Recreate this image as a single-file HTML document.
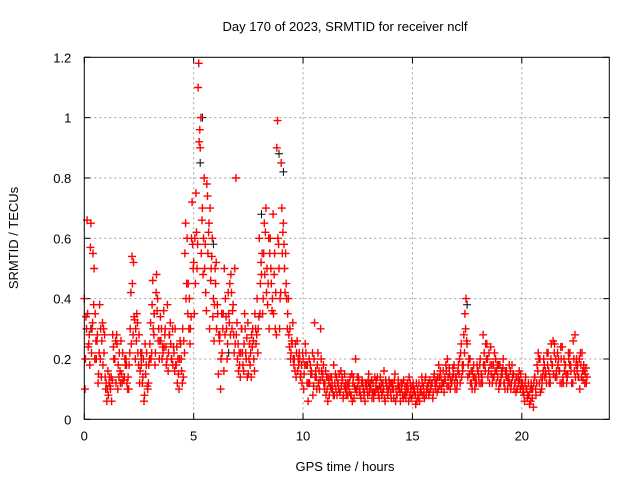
<!DOCTYPE html>
<html><head><meta charset="utf-8"><style>
body{margin:0;background:#fff;}
svg{display:block;font-family:"Liberation Sans",sans-serif;}
</style></head><body>
<svg id="chart" width="640" height="480" viewBox="0 0 640 480">
<text x="345" y="31" font-size="13" text-anchor="middle">Day 170 of 2023, SRMTID for receiver nclf</text>
<text transform="translate(18,238) rotate(-90)" font-size="13" text-anchor="middle">SRMTID / TECUs</text>
<text x="345" y="471" font-size="13" text-anchor="middle">GPS time / hours</text>
<g id="grid"></g>
<g id="ticks"></g>
<g id="marks"></g>
<rect x="84.3" y="57.3" width="525" height="362" fill="none" stroke="#000" stroke-width="1"/>
</svg>
<script>
const xTicks=[0,5,10,15,20];
const yTicks=[0,0.2,0.4,0.6,0.8,1,1.2];
const yTickLabels=["0","0.2","0.4","0.6","0.8","1","1.2"];
const step=0.1;
const seriesA=[0.40,0.30,0.25,0.65,0.55,0.35,0.28,0.38,0.26,0.22,
0.12,0.08,0.10,0.28,0.20,0.25,0.22,0.15,0.13,0.20,
0.14,0.30,0.45,0.33,0.35,0.28,0.18,0.20,0.15,0.10,
0.25,0.38,0.35,0.48,0.30,0.26,0.22,0.30,0.38,0.28,
0.20,0.22,0.18,0.15,0.25,0.30,0.55,0.60,0.40,0.60,
0.52,0.75,1.10,0.90,0.70,0.50,0.78,0.65,0.50,0.40,
0.45,0.35,0.28,0.22,0.50,0.30,0.35,0.48,0.38,0.25,
0.20,0.18,0.30,0.25,0.20,0.15,0.22,0.30,0.35,0.40,
0.60,0.48,0.55,0.70,0.45,0.60,0.40,0.55,0.90,0.50,
0.85,0.65,0.55,0.35,0.30,0.25,0.20,0.22,0.18,0.15,
0.20,0.25,0.18,0.12,0.15,0.20,0.14,0.12,0.30,0.15,
0.12,0.10,0.08,0.14,0.18,0.10,0.12,0.09,0.13,0.15,
0.10,0.12,0.08,0.14,0.20,0.11,0.10,0.13,0.09,0.12,
0.15,0.10,0.12,0.09,0.14,0.11,0.08,0.16,0.12,0.10,
0.09,0.12,0.15,0.08,0.11,0.10,0.13,0.07,0.10,0.12,
0.08,0.10,0.06,0.12,0.09,0.11,0.14,0.10,0.13,0.12,
0.15,0.12,0.18,0.14,0.16,0.13,0.20,0.15,0.12,0.18,
0.14,0.18,0.22,0.16,0.35,0.25,0.15,0.12,0.18,0.14,
0.16,0.20,0.12,0.18,0.25,0.22,0.15,0.18,0.20,0.14,
0.18,0.15,0.12,0.16,0.14,0.10,0.15,0.12,0.10,0.13,
0.11,0.08,0.10,0.12,0.06,0.10,0.14,0.18,0.12,0.10,
0.20,0.15,0.22,0.12,0.18,0.25,0.14,0.16,0.20,0.12,
0.18,0.15,0.22,0.12,0.16,0.20,0.14,0.18,0.13,0.15];
const seriesB=[0.20,0.35,0.18,0.30,0.50,0.20,0.15,0.30,0.18,0.14,
0.10,0.14,0.06,0.20,0.12,0.18,0.12,0.22,0.20,0.12,
0.18,0.25,0.52,0.30,0.22,0.16,0.12,0.08,0.22,0.18,
0.20,0.30,0.22,0.40,0.26,0.20,0.24,0.18,0.22,0.25,
0.18,0.30,0.12,0.20,0.16,0.26,0.40,0.45,0.30,0.58,
0.60,0.50,0.92,0.55,0.60,0.42,0.55,0.70,0.60,0.38,
0.30,0.28,0.20,0.35,0.40,0.25,0.45,0.30,0.22,0.28,
0.16,0.22,0.18,0.30,0.14,0.25,0.28,0.20,0.25,0.30,
0.45,0.35,0.48,0.50,0.30,0.45,0.35,0.42,0.60,0.40,
0.55,0.50,0.40,0.28,0.22,0.20,0.25,0.16,0.20,0.12,
0.15,0.18,0.12,0.15,0.08,0.14,0.18,0.10,0.16,0.12,
0.08,0.14,0.11,0.10,0.12,0.08,0.15,0.11,0.08,0.12,
0.08,0.14,0.06,0.11,0.09,0.13,0.07,0.10,0.12,0.08,
0.11,0.07,0.09,0.13,0.08,0.10,0.12,0.06,0.09,0.11,
0.12,0.07,0.10,0.13,0.06,0.08,0.11,0.09,0.14,0.07,
0.10,0.05,0.08,0.09,0.12,0.07,0.10,0.08,0.11,0.09,
0.10,0.14,0.11,0.12,0.09,0.16,0.11,0.13,0.17,0.10,
0.12,0.20,0.14,0.28,0.40,0.18,0.12,0.16,0.10,0.18,
0.12,0.15,0.18,0.25,0.14,0.18,0.12,0.22,0.16,0.10,
0.14,0.20,0.16,0.10,0.12,0.18,0.10,0.14,0.12,0.15,
0.09,0.12,0.07,0.05,0.10,0.12,0.08,0.22,0.09,0.14,
0.14,0.22,0.12,0.25,0.15,0.20,0.18,0.12,0.24,0.16,
0.12,0.20,0.16,0.26,0.14,0.18,0.10,0.22,0.16,0.12];
const seriesC=[0.10,0.66,0.28,0.22,0.38,0.26,0.12,0.20,0.32,0.28,
0.06,0.12,0.14,0.24,0.26,0.10,0.16,0.12,0.14,0.18,
0.10,0.42,0.28,0.20,0.32,0.12,0.22,0.06,0.18,0.12,
0.32,0.46,0.18,0.36,0.20,0.30,0.36,0.24,0.16,0.32,
0.30,0.16,0.24,0.10,0.20,0.14,0.65,0.35,0.25,0.72,
0.35,0.62,1.18,1.00,0.48,0.58,0.74,0.30,0.54,0.26,
0.52,0.15,0.10,0.30,0.28,0.20,0.32,0.42,0.28,0.80,
0.25,0.14,0.22,0.35,0.27,0.20,0.14,0.26,0.30,0.22,
0.35,0.55,0.65,0.42,0.60,0.50,0.68,0.30,0.99,0.30,
0.70,0.58,0.45,0.40,0.20,0.32,0.16,0.26,0.22,0.18,
0.10,0.22,0.06,0.18,0.22,0.32,0.10,0.16,0.20,0.18,
0.16,0.06,0.14,0.12,0.08,0.14,0.10,0.16,0.07,0.10,
0.12,0.09,0.15,0.07,0.10,0.14,0.08,0.12,0.06,0.10,
0.09,0.13,0.07,0.11,0.10,0.14,0.09,0.07,0.11,0.13,
0.07,0.10,0.06,0.11,0.09,0.12,0.08,0.11,0.06,0.10,
0.12,0.08,0.10,0.06,0.14,0.09,0.08,0.12,0.10,0.07,
0.12,0.09,0.14,0.10,0.12,0.18,0.14,0.10,0.14,0.12,
0.10,0.15,0.25,0.18,0.30,0.14,0.20,0.10,0.14,0.12,
0.14,0.12,0.28,0.16,0.20,0.12,0.18,0.14,0.12,0.18,
0.12,0.17,0.10,0.14,0.18,0.12,0.15,0.09,0.14,0.10,
0.12,0.06,0.10,0.08,0.12,0.04,0.10,0.16,0.20,0.12,
0.18,0.12,0.16,0.20,0.26,0.14,0.22,0.16,0.12,0.20,
0.15,0.22,0.18,0.12,0.28,0.16,0.20,0.14,0.18,0.17];
const seriesD=[0.34,0.24,0.57,0.32,0.20,0.26,0.22,0.14,0.30,0.10,
0.16,0.11,0.13,0.20,0.28,0.14,0.26,0.13,0.18,0.10,
0.22,0.54,0.34,0.26,0.18,0.22,0.14,0.25,0.11,0.20,
0.22,0.28,0.42,0.26,0.34,0.24,0.28,0.20,0.28,0.20,
0.24,0.18,0.20,0.26,0.12,0.22,0.45,0.30,0.34,0.50,
0.45,0.58,0.96,0.66,0.80,0.36,0.62,0.46,0.34,0.50,
0.38,0.26,0.35,0.16,0.34,0.42,0.28,0.36,0.50,0.32,
0.22,0.30,0.16,0.22,0.32,0.18,0.24,0.16,0.28,0.34,
0.52,0.40,0.62,0.38,0.55,0.36,0.48,0.28,0.58,0.42,
0.62,0.42,0.30,0.24,0.26,0.18,0.14,0.20,0.14,0.22,
0.18,0.12,0.20,0.16,0.11,0.16,0.22,0.13,0.14,0.10,
0.14,0.12,0.10,0.08,0.15,0.12,0.09,0.14,0.11,0.08,
0.11,0.08,0.12,0.10,0.14,0.09,0.12,0.08,0.11,0.13,
0.12,0.09,0.14,0.10,0.07,0.12,0.10,0.13,0.08,0.12,
0.10,0.13,0.08,0.10,0.12,0.07,0.09,0.12,0.08,0.11,
0.09,0.12,0.07,0.10,0.08,0.13,0.11,0.09,0.12,0.14,
0.13,0.10,0.16,0.12,0.14,0.11,0.17,0.12,0.15,0.14,
0.16,0.12,0.18,0.22,0.26,0.20,0.16,0.14,0.12,0.16,
0.18,0.14,0.22,0.20,0.16,0.24,0.14,0.16,0.18,0.12,
0.16,0.12,0.14,0.12,0.16,0.14,0.12,0.10,0.16,0.12,
0.10,0.14,0.08,0.10,0.07,0.14,0.12,0.20,0.14,0.16,
0.16,0.18,0.14,0.18,0.22,0.16,0.20,0.24,0.14,0.18,
0.14,0.18,0.12,0.20,0.18,0.14,0.22,0.16,0.12,0.14];
const blackTimes=[0.3,2.6,3.2,5.3,5.4,5.9,6.6,8.1,8.9,9.1,13.0,17.5,22.0];
const blackValues=[0.30,0.20,0.35,0.85,1.00,0.58,0.22,0.68,0.88,0.82,0.12,0.38,0.18];

const X0=84.3,X1=609.3,Y0=419.3,Y1=57.3;
function sx(t){return X0+(t/24)*(X1-X0);}
function sy(v){return Y0-(v/1.2)*(Y0-Y1);}
const NS="http://www.w3.org/2000/svg";
const grid=document.getElementById('grid'),ticks=document.getElementById('ticks'),marks=document.getElementById('marks');
function mk(tag,attrs,parent){const e=document.createElementNS(NS,tag);for(const k in attrs)e.setAttribute(k,attrs[k]);parent.appendChild(e);return e;}
xTicks.forEach(t=>{
  const x=sx(t);
  if(t>0){const g=mk('line',{x1:x,x2:x,y1:Y1,y2:Y0,stroke:'#a0a0a0','stroke-dasharray':'2,3'},grid);
  
  }
  const l=mk('text',{x:x,y:Y0+21,'font-size':'13','text-anchor':'middle'},ticks);l.textContent=t;
  
  
  mk('line',{x1:x,x2:x,y1:Y0,y2:Y0-6,stroke:'#000'},ticks);
  mk('line',{x1:x,x2:x,y1:Y1,y2:Y1+6,stroke:'#000'},ticks);
});
yTicks.forEach((v,i)=>{
  const y=sy(v);
  if(v>0&&v<1.2){const g=mk('line',{x1:X0,x2:X1,y1:y,y2:y,stroke:'#a0a0a0','stroke-dasharray':'2,3'},grid);
  
  }
  const l=mk('text',{x:X0-13,y:y+5,'font-size':'13','text-anchor':'end'},ticks);l.textContent=yTickLabels[i];
  
  
  mk('line',{x1:X0,x2:X0+6,y1:y,y2:y,stroke:'#000'},ticks);
  mk('line',{x1:X1,x2:X1-6,y1:y,y2:y,stroke:'#000'},ticks);
});
function plus(x,y){return `M${(x-4).toFixed(1)} ${y.toFixed(1)}h8M${x.toFixed(1)} ${(y-4).toFixed(1)}v8`;}
let dBlack='';
blackTimes.forEach((t,i)=>{dBlack+=plus(sx(t),sy(blackValues[i]));});
const pb=mk('path',{d:dBlack,stroke:'#000',fill:'none','stroke-width':'1'},marks);


let d='';
[[seriesA,0],[seriesB,0.05],[seriesC,0.03],[seriesD,0.08]].forEach(([arr,off])=>{
  arr.forEach((v,i)=>{d+=plus(sx(i*step+off),sy(v));});
});
const pr=mk('path',{d:d,stroke:'#ff0000',fill:'none','stroke-width':'1.4'},marks);


</script>
</body></html>
